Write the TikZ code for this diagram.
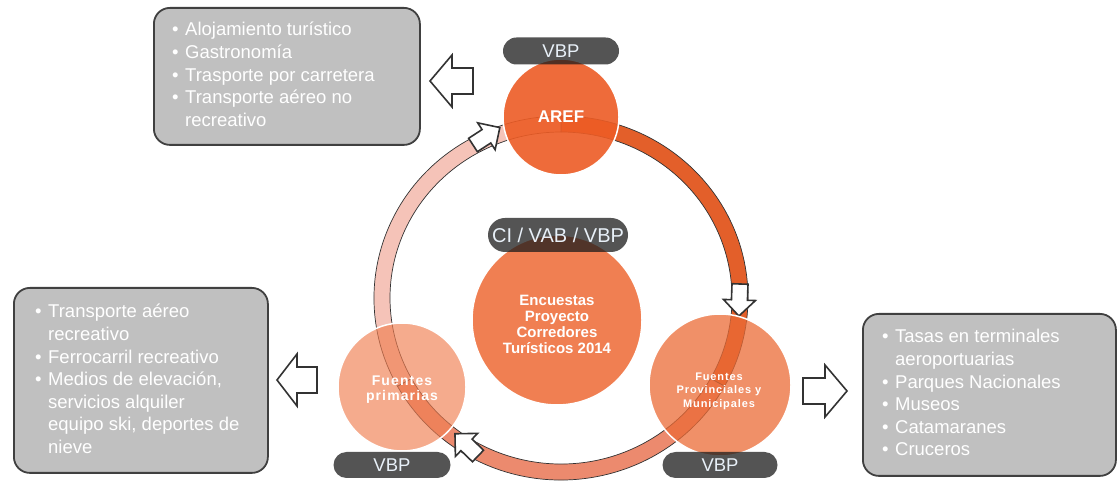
\documentclass[tikz,border=0pt]{standalone}
\usepackage{fontspec}
\setmainfont{Liberation Sans}
\newfontfamily\spacedfont[LetterSpace=8]{Liberation Sans}
\usetikzlibrary{calc}
\definecolor{ringdark}{HTML}{E35F2A}
\definecolor{ringmid}{HTML}{EC8A6E}
\definecolor{ringlight}{HTML}{F5C3B8}
\definecolor{arefc}{HTML}{ED5C25}
\definecolor{provc}{HTML}{EB6B36}
\definecolor{primc}{HTML}{F07E51}
\definecolor{centc}{HTML}{F07F52}
\definecolor{pillc}{HTML}{1C1C1C}
\definecolor{pilltext}{HTML}{E8F0F8}
\definecolor{boxfill}{HTML}{C0C0C0}
\definecolor{boxline}{HTML}{404040}
\definecolor{outl}{HTML}{333333}
\tikzset{
 infobox/.style={rectangle, draw=boxline, line width=1.8pt, fill=boxfill, rounded corners=16pt, anchor=north west, inner sep=0pt},
 boxtext/.style={text=white, inner sep=0pt, anchor=base west, font=\fontsize{18.5}{22.6}\selectfont},
 pill/.style={rectangle, rounded corners=13pt, fill=pillc, fill opacity=0.75, text opacity=1, text=pilltext, minimum height=26pt, inner sep=0pt, font=\fontsize{18.5}{20}\selectfont},
 bubble/.style={circle, draw=white, line width=1.5pt, inner sep=0pt},
 bubtext/.style={text=white, align=center, inner sep=0pt},
 blockarrow/.style={fill=white, draw=outl, line width=1.6pt, line join=miter},
 seg/.style={draw=outl, line width=0.7pt},
}
\newcommand\ringseg[3]{%
 \filldraw[seg, fill=#1] ($(rc)+(#2:187 and 182)$) arc[start angle=#2, end angle=#3, x radius=187, y radius=182]
   -- ($(rc)+(#3:171 and 166)$) arc[start angle=#3, end angle=#2, x radius=171, y radius=166] -- cycle;}
\newcommand\ringarrow[2]{%
 \filldraw[blockarrow, shift={(#1)}, rotate=#2] (0,-8) -- (16,-8) -- (16,-16) -- (32,0) -- (16,16) -- (16,8) -- (0,8) -- cycle;}
\begin{document}
\begin{tikzpicture}[x=1pt,y=1pt]
\fill[white] (0,0) rectangle (1118,481);
\useasboundingbox (0,0) rectangle (1118,481);

% info boxes
\node[infobox, minimum width=266pt, minimum height=137pt] (box1) at (153,474) {};
\node[infobox, minimum width=254pt, minimum height=185pt] (box2) at (13,194) {};
\node[infobox, minimum width=253pt, minimum height=162pt] (box3) at (862,168) {};

\node[boxtext] (t1) at (172,445) {\begin{tabular}[t]{@{}l@{\hspace{6.5pt}}l@{}}
•& Alojamiento turístico\\ •& Gastronomía\\ •& Trasporte por carretera\\ •& Transporte aéreo no\\ & recreativo\end{tabular}};
\node[boxtext] (t2) at (35,163) {\begin{tabular}[t]{@{}l@{\hspace{6.5pt}}l@{}}
•& Transporte aéreo\\ & recreativo\\ •& Ferrocarril recreativo\\ •& Medios de elevación,\\ & servicios alquiler\\ & equipo ski, deportes de\\ & nieve\end{tabular}};
\node[boxtext] (t3) at (882,138) {\begin{tabular}[t]{@{}l@{\hspace{6.5pt}}l@{}}
•& Tasas en terminales\\ & aeroportuarias\\ •& Parques Nacionales\\ •& Museos\\ •& Catamaranes\\ •& Cruceros\end{tabular}};

% side block arrows
\filldraw[blockarrow] (430,400) -- (452,426) -- (452,413) -- (473,413) -- (473,387) -- (452,387) -- (452,374) -- cycle;
\filldraw[blockarrow] (277,101) -- (297,127) -- (297,114) -- (317,114) -- (317,88) -- (297,88) -- (297,75) -- cycle;
\filldraw[blockarrow] (847,90) -- (825,116) -- (825,103) -- (803,103) -- (803,77) -- (825,77) -- (825,64) -- cycle;

% ring
\coordinate (rc) at (561,183);
\ringseg{ringdark}{90}{-29}
\ringseg{ringmid}{-29}{-151}
\ringseg{ringlight}{-151}{-270}

\coordinate (aR) at (740,197);
\coordinate (aB) at (478,25);
\coordinate (aL) at (473,336);
\ringarrow{aR}{-92}
\ringarrow{aB}{136}
\ringarrow{aL}{33}

% circles
\node[bubble, fill=arefc, fill opacity=0.9, minimum size=116pt] (aref) at (561,364) {};
\node[bubble, fill=centc, minimum size=170pt] (cent) at (557,161) {};
\node[bubble, fill=provc, fill opacity=0.75, minimum size=142pt] (prov) at (720,96) {};
\node[bubble, fill=primc, fill opacity=0.65, minimum size=128pt] (prim) at (402,94) {};

\node[bubtext, font=\bfseries\fontsize{17}{20}\selectfont] (arefT) at (aref) {AREF};
\node[bubtext, font=\bfseries\fontsize{15}{16}\selectfont] (centT) at (557,157) {Encuestas\\Proyecto\\Corredores\\Turísticos 2014};
\node[bubtext, font=\spacedfont\bfseries\fontsize{11}{13.5}\selectfont] (provT) at (719,90) {Fuentes\\Provinciales y\\Municipales};
\node[bubtext, font=\spacedfont\bfseries\fontsize{14}{15}\selectfont] (primT) at (402,91) {Fuentes\\primarias};

% pills
\node[pill, minimum width=116pt, minimum height=27pt, rounded corners=13.5pt] (pAref) at (561,430) {VBP};
\node[pill, minimum width=140pt, minimum height=34pt, rounded corners=17pt, font=\fontsize{20}{22}\selectfont] (pCent) at (558,246) {CI / VAB / VBP};
\node[pill, minimum width=117pt] (pPrim) at (392,16) {VBP};
\node[pill, minimum width=115pt] (pProv) at (720,16) {VBP};
\end{tikzpicture}
\end{document}
